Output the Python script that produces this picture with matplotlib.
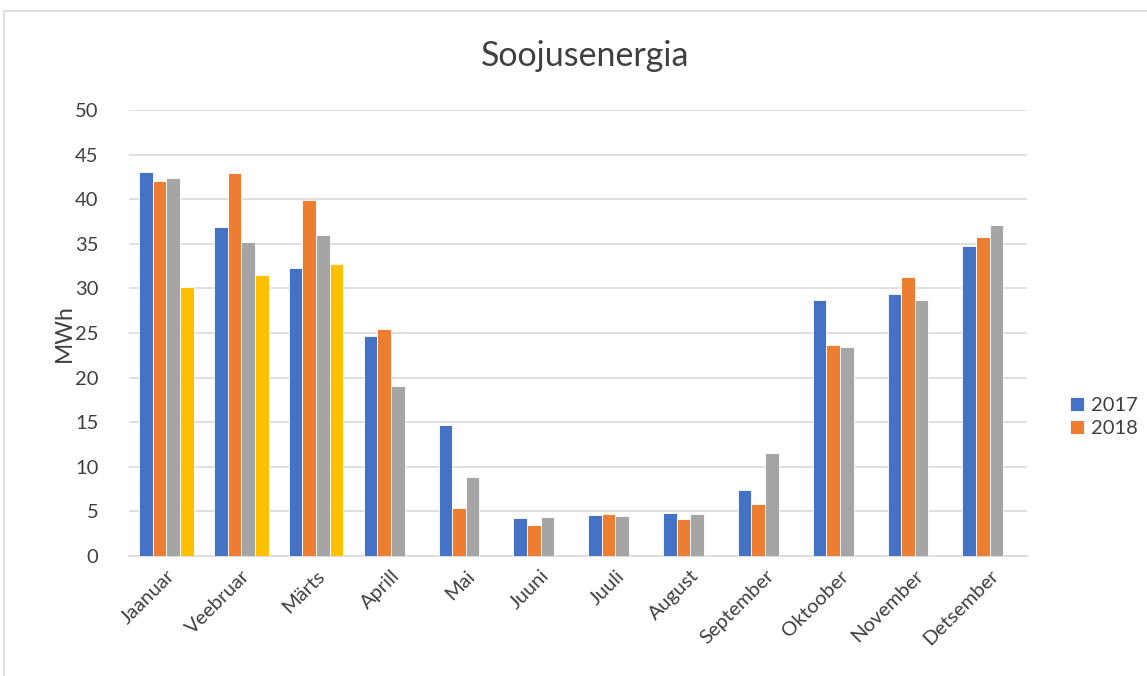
import numpy as np
import matplotlib
matplotlib.use('Agg')
import matplotlib.pyplot as plt
from matplotlib.patches import Rectangle

plt.rcParams['font.family'] = ['Lato', 'DejaVu Sans']

# data -------------------------------------------------------------------
months = ['Jaanuar', 'Veebruar', 'Märts', 'Aprill', 'Mai', 'Juuni',
          'Juuli', 'August', 'September', 'Oktoober', 'November', 'Detsember']
y2017 = [43.0, 36.9, 32.3, 24.65, 14.7, 4.3, 4.6, 4.8, 7.4, 28.7, 29.4, 34.7]
y2018 = [42.0, 42.9, 39.9, 25.45, 5.35, 3.5, 4.7, 4.2, 5.85, 23.7, 31.3, 35.8]
y2019 = [42.35, 35.2, 36.0, 19.1, 8.9, 4.4, 4.45, 4.7, 11.6, 23.4, 28.7, 37.1]
y2020 = [30.2, 31.5, 32.7]
series = [('2017', y2017, '#4472C4'), ('2018', y2018, '#ED7D31'),
          ('2019', y2019, '#A5A5A5'), ('2020', y2020, '#FFC000')]
yticks = [0, 5, 10, 15, 20, 25, 30, 35, 40, 45, 50]
# -------------------------------------------------------------------------

fig = plt.figure(figsize=(11.47, 6.76), dpi=100)
ax = fig.add_axes([0.1125, 0.1775, 0.7829, 0.6598])

# chart border
fig.patches.append(Rectangle((4/1147, -0.01), 1.2, 1 - 11/676 + 0.01,
                             transform=fig.transFigure, fill=False,
                             edgecolor='#d9d9d9', linewidth=1.2))

w = 0.182
handles = []
for i, (name, vals, col) in enumerate(series):
    x = np.arange(len(vals)) + (i - 1.5) * w
    b = ax.bar(x, vals, width=w, color=col, edgecolor='white',
               linewidth=0.6, label=name, zorder=3)
    handles.append(b)

ax.set_xlim(-0.5, len(months) - 0.5)
ax.set_ylim(0, 50)
ax.set_yticks(yticks)
ax.set_xticks(np.arange(len(months)))
ax.set_xticklabels(months, rotation=45, ha='right', rotation_mode='anchor')
ax.tick_params(axis='both', length=0, labelsize=14.5, colors='#404040')
ax.tick_params(axis='x', pad=8)
ax.tick_params(axis='y', pad=22)
ax.grid(axis='y', color='#d9d9d9', linewidth=1.2, zorder=0)
for s in ['top', 'right', 'left']:
    ax.spines[s].set_visible(False)
ax.spines['bottom'].set_color('#d9d9d9')
ax.spines['bottom'].set_linewidth(1.2)

ax.set_ylabel('MWh', fontsize=16.5, color='#404040', labelpad=0)
fig.text(0.5105, 0.917, 'Soojusenergia', ha='center', va='center',
         fontsize=24.5, color='#404040')

fig.legend(handles=handles[:2], loc='center left',
           bbox_to_anchor=(1052/1147, 1 - 417/676), frameon=False,
           fontsize=14.5, handlelength=0.7, handleheight=0.7,
           handletextpad=0.35, labelspacing=0.25, labelcolor='#404040')

fig.savefig('out.png', dpi=100)
